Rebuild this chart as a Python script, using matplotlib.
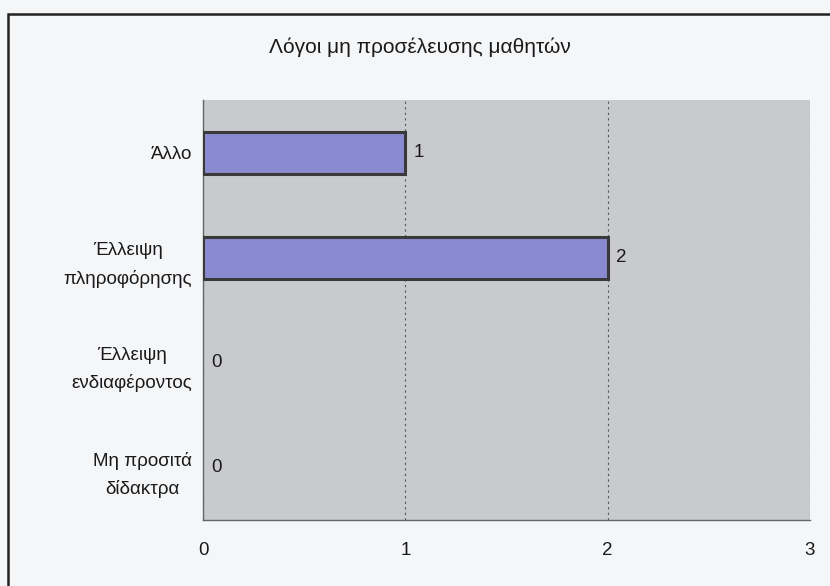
import matplotlib
matplotlib.use("Agg")
import matplotlib.pyplot as plt
from matplotlib.patches import Rectangle

categories = ["Άλλο", "Έλλειψη\nπληροφόρησης", "Έλλειψη\nενδιαφέροντος", "Μη προσιτά\nδίδακτρα"]
values = [1, 2, 0, 0]
xticks = [0, 1, 2, 3]
title = "Λόγοι μη προσέλευσης μαθητών"

plt.rcParams['font.family'] = ['Liberation Sans', 'DejaVu Sans']

W, H = 830, 586
fig = plt.figure(figsize=(W / 100, H / 100), dpi=100, facecolor="#f5f6f8")

# outer frame (top and left visible as in scan)
fig.add_artist(Rectangle((8 / W, -0.05), 1.1, 1 - 14 / H + 0.05, transform=fig.transFigure,
                         fill=False, edgecolor="#222222", linewidth=1.8))

left, right, top, bottom = 203, 810, 100, 520
ax = fig.add_axes([left / W, 1 - bottom / H, (right - left) / W, (bottom - top) / H])
ax.set_facecolor("#c9cacd")

ypos = list(range(len(categories)))
ax.barh(ypos, values, height=0.4, color="#8a8ad0", edgecolor="#3a3a3a",
        linewidth=[2.2 if v else 0 for v in values], zorder=3)
for y, v in zip(ypos, values):
    ax.text(v + 0.04, y, str(v), va="center", ha="left", fontsize=13.5, color="#1a1a1a", zorder=4)

ax.set_xlim(0, 3)
ax.set_ylim(len(categories) - 0.5, -0.5)
ax.set_xticks(xticks)
ax.set_xticklabels([str(t) for t in xticks], fontsize=13.5, color="#1a1a1a")
ax.set_yticks(ypos)
ax.set_yticklabels(categories, fontsize=13.5, multialignment="center", linespacing=1.75, color="#1a1a1a")
ax.tick_params(axis="x", length=0, pad=16)
ax.tick_params(axis="y", length=0, pad=8)
ax.grid(axis="x", linestyle=(0, (2, 3)), color="#555555", linewidth=0.8, zorder=1)
for s in ["top", "right"]:
    ax.spines[s].set_visible(False)
for s in ["left", "bottom"]:
    ax.spines[s].set_color("#666666")
    ax.spines[s].set_linewidth(1.0)

fig.text(420 / W, 1 - 47 / H, title, ha="center", va="center", fontsize=15, color="#1a1a1a")

fig.savefig("out.png", dpi=100, facecolor=fig.get_facecolor())
